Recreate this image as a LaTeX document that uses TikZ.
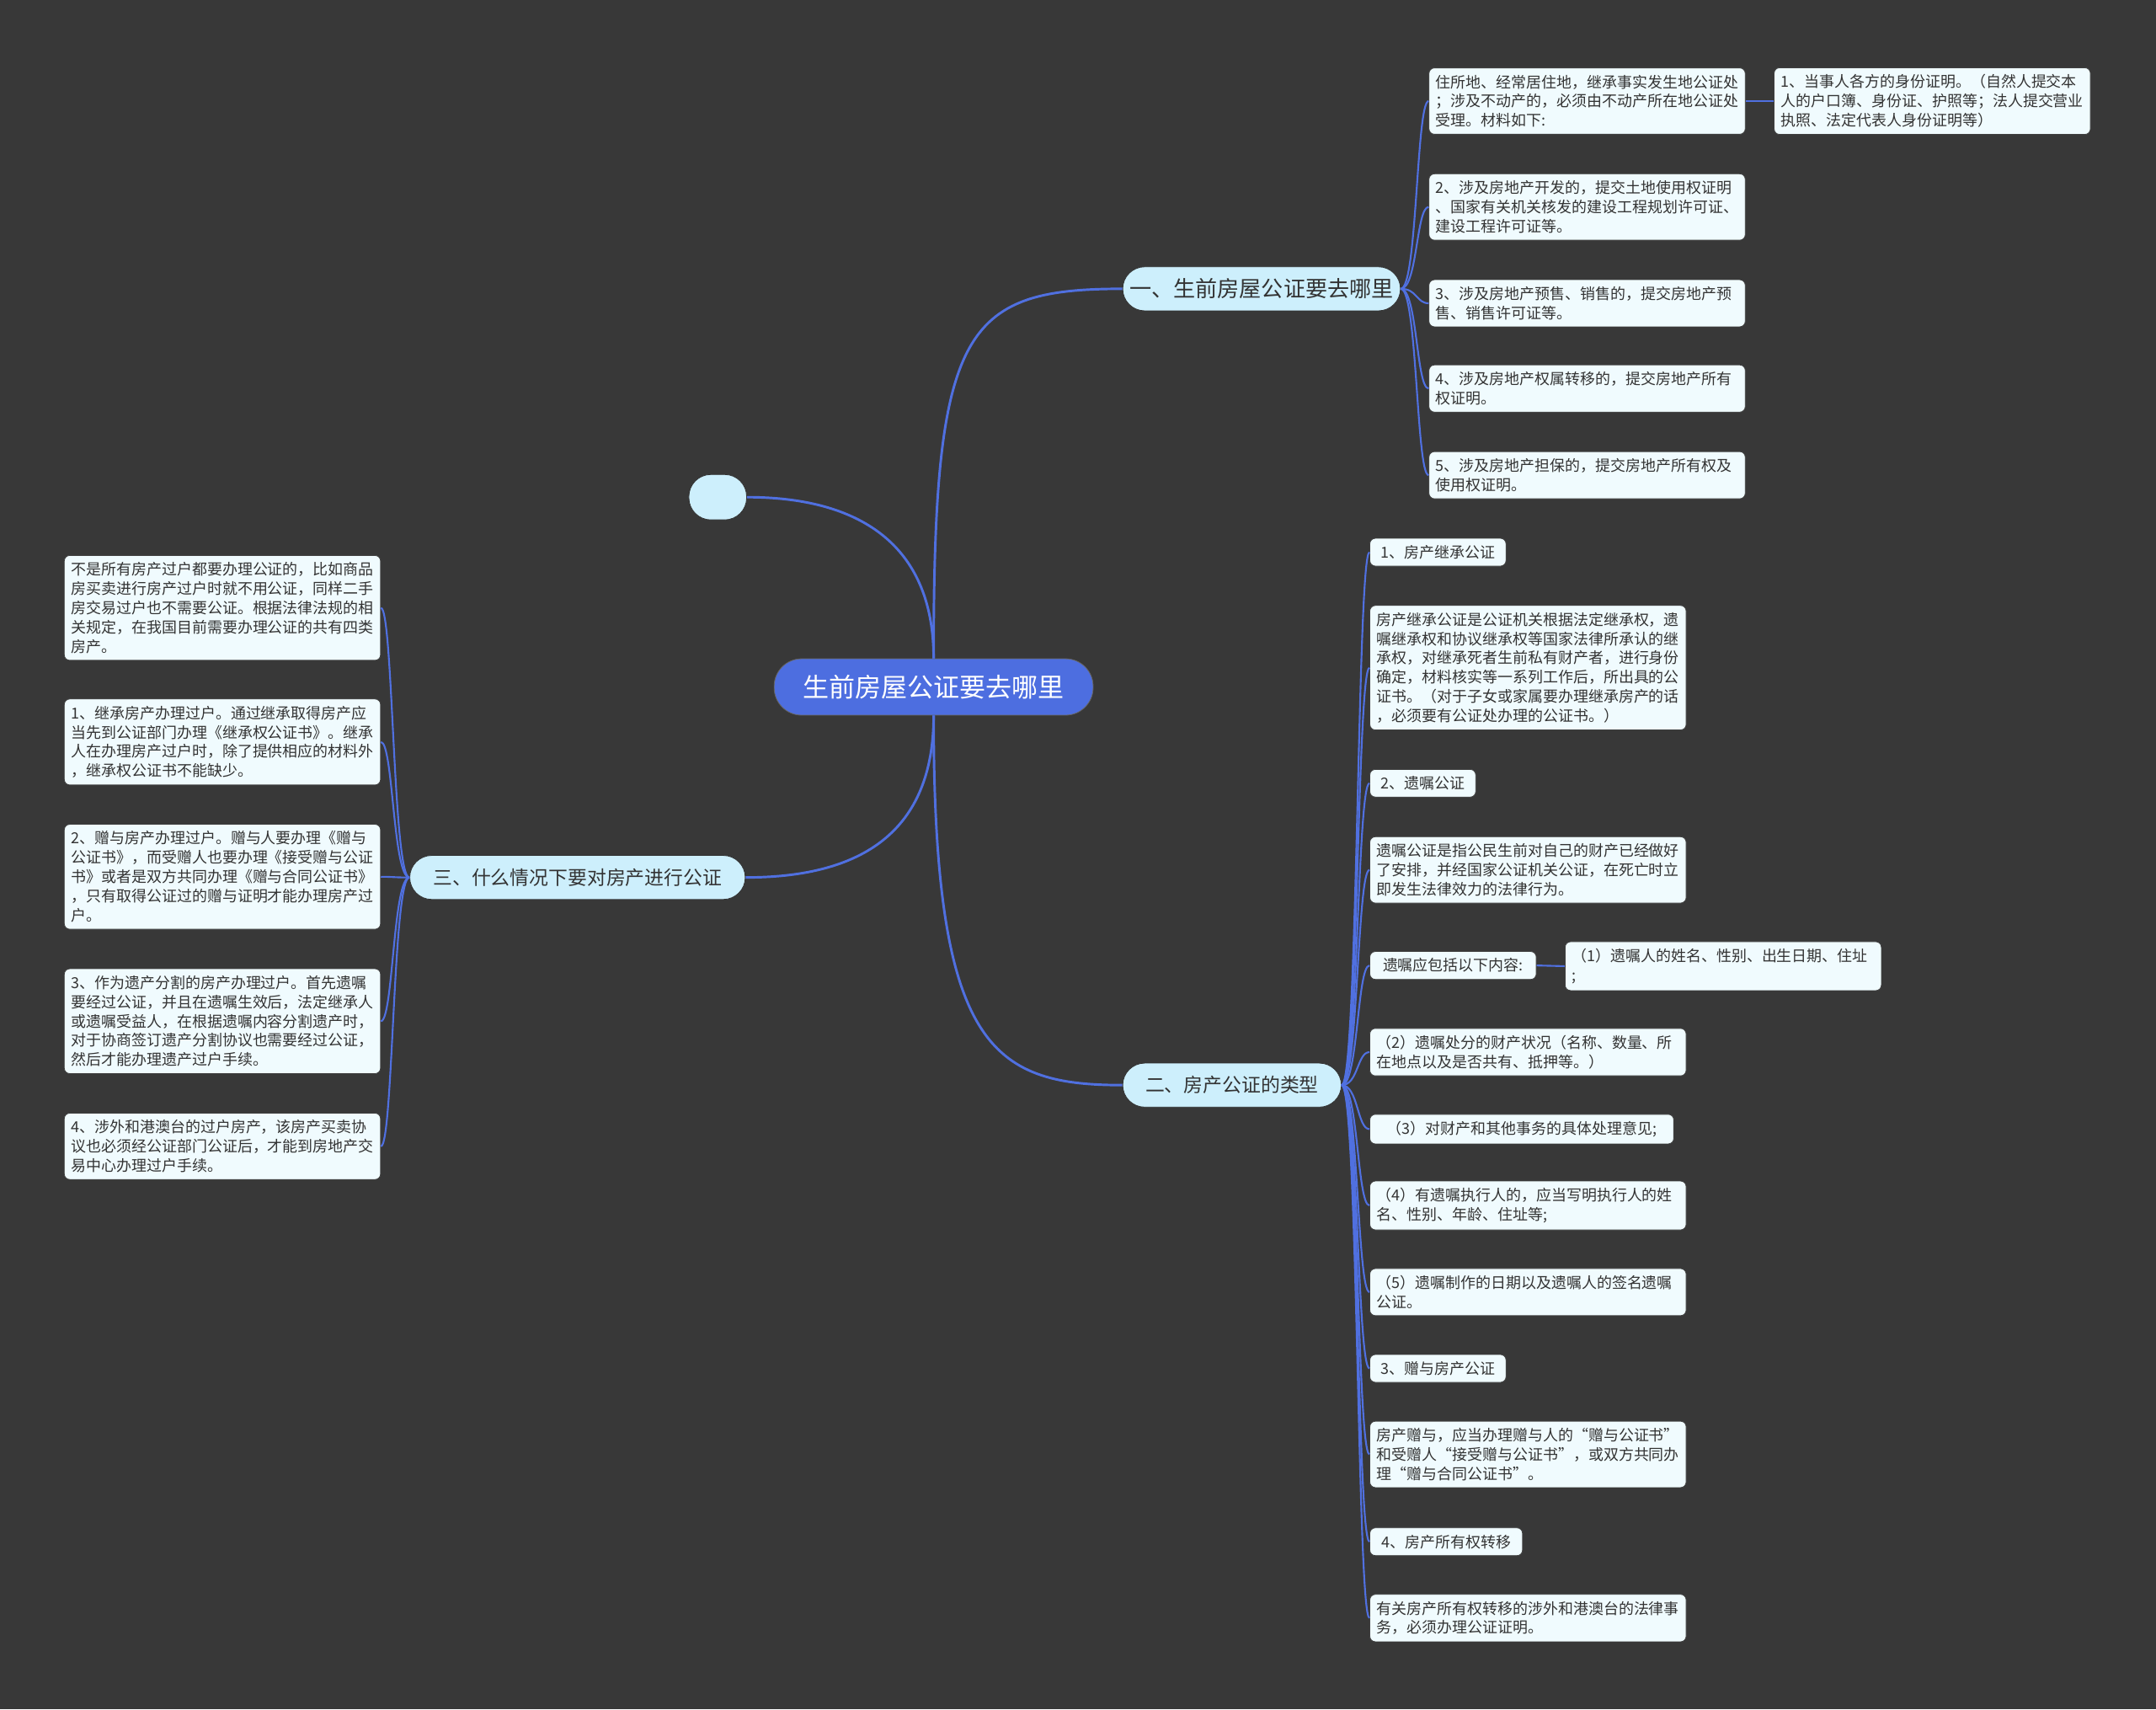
\documentclass[tikz,border=0pt]{standalone}
\usepackage{fontspec}
\setmainfont{Noto Sans CJK SC}
\definecolor{bgcol}{HTML}{383838}
\definecolor{linecol}{HTML}{5070E0}
\definecolor{rootfill}{HTML}{4D6EE0}
\definecolor{l1fill}{HTML}{CDEFFC}
\definecolor{leaffill}{HTML}{F0FBFE}
\definecolor{txt}{HTML}{333333}
\begin{document}
\begin{tikzpicture}[x=1pt,y=-1pt,
  leaf/.style={draw=black!75, line width=0.5pt, fill=leaffill, rounded corners=4pt, text=txt,
    font=\fontsize{11}{14}\selectfont, align=left, inner xsep=5pt, inner ysep=5pt, anchor=west},
  wide/.style={leaf, text width=220pt},
  lvone/.style={draw=black!80, line width=0.5pt, fill=l1fill, rounded corners=16pt, text=txt,
    minimum height=32pt, inner xsep=0pt},
  rootbox/.style={draw=black!60, line width=0.5pt, fill=rootfill, rounded corners=20pt, text=white,
    font=\fontsize{19}{22}\selectfont, minimum height=41pt, minimum width=232pt, inner xsep=0pt},
  conn/.style={draw=linecol, line width=1.3pt},
  mainconn/.style={draw=linecol, line width=1.8pt}]
\fill[bgcol] (0,0) rectangle (1568,1243);
\useasboundingbox (0,0) rectangle (1568,1243);

% root and first level
\node[rootbox] (root) at (679,499.5) {生前房屋公证要去哪里};
\node[lvone, minimum width=42pt, minimum height=33pt] (e0) at (522,361.5) {};
\node[lvone, minimum width=202pt, font=\fontsize{16}{18}\selectfont] (A) at (917.5,210) {一、生前房屋公证要去哪里};
\node[lvone, minimum width=159pt, font=\fontsize{14}{18}\selectfont] (B) at (896,789) {二、房产公证的类型};
\node[lvone, minimum width=244pt, font=\fontsize{14}{18}\selectfont] (C) at (420,638) {三、什么情况下要对房产进行公证};

% branch A
\node[wide] (a1) at (1039,73.5) {住所地、经常居住地，继承事实发生地公证处\\；涉及不动产的，必须由不动产所在地公证处\\受理。材料如下:};
\node[wide] (a1x) at (1290,73.5) {1、当事人各方的身份证明。（自然人提交本\\人的户口簿、身份证、护照等；法人提交营业\\执照、法定代表人身份证明等）};
\node[wide] (a2) at (1039,150.5) {2、涉及房地产开发的，提交土地使用权证明\\、国家有关机关核发的建设工程规划许可证、\\建设工程许可证等。};
\node[wide] (a3) at (1039,220.5) {3、涉及房地产预售、销售的，提交房地产预\\售、销售许可证等。};
\node[wide] (a4) at (1039,282.5) {4、涉及房地产权属转移的，提交房地产所有\\权证明。};
\node[wide] (a5) at (1039,345.5) {5、涉及房地产担保的，提交房地产所有权及\\使用权证明。};

% branch B
\node[leaf, minimum width=99pt] (b1) at (996,401.5) {1、房产继承公证};
\node[wide] (b2) at (996,485.5) {房产继承公证是公证机关根据法定继承权，遗\\嘱继承权和协议继承权等国家法律所承认的继\\承权，对继承死者生前私有财产者，进行身份\\确定，材料核实等一系列工作后，所出具的公\\证书。（对于子女或家属要办理继承房产的话\\，必须要有公证处办理的公证书。）};
\node[leaf, minimum width=77pt] (b3) at (996,569.5) {2、遗嘱公证};
\node[wide] (b4) at (996,632.5) {遗嘱公证是指公民生前对自己的财产已经做好\\了安排，并经国家公证机关公证，在死亡时立\\即发生法律效力的法律行为。};
\node[leaf, minimum width=121pt] (b5) at (996,702) {遗嘱应包括以下内容:};
\node[wide] (b5x) at (1138,702.5) {（1）遗嘱人的姓名、性别、出生日期、住址\\;};
\node[wide] (b6) at (996,765) {（2）遗嘱处分的财产状况（名称、数量、所\\在地点以及是否共有、抵押等。）};
\node[leaf, minimum width=221pt] (b7) at (996,821) {（3）对财产和其他事务的具体处理意见;};
\node[wide] (b8) at (996,876.5) {（4）有遗嘱执行人的，应当写明执行人的姓\\名、性别、年龄、住址等;};
\node[wide] (b9) at (996,939.5) {（5）遗嘱制作的日期以及遗嘱人的签名遗嘱\\公证。};
\node[leaf, minimum width=99pt] (b10) at (996,995) {3、赠与房产公证};
\node[wide] (b11) at (996,1057.5) {房产赠与，应当办理赠与人的“赠与公证书”\\和受赠人“接受赠与公证书”，或双方共同办\\理“赠与合同公证书”。};
\node[leaf, minimum width=111pt] (b12) at (996,1121) {4、房产所有权转移};
\node[wide] (b13) at (996,1176.5) {有关房产所有权转移的涉外和港澳台的法律事\\务，必须办理公证证明。};

% branch C
\node[wide, anchor=east] (c1) at (277,442) {不是所有房产过户都要办理公证的，比如商品\\房买卖进行房产过户时就不用公证，同样二手\\房交易过户也不需要公证。根据法律法规的相\\关规定，在我国目前需要办理公证的共有四类\\房产。};
\node[wide, anchor=east] (c2) at (277,539.5) {1、继承房产办理过户。通过继承取得房产应\\当先到公证部门办理《继承权公证书》。继承\\人在办理房产过户时，除了提供相应的材料外\\，继承权公证书不能缺少。};
\node[wide, anchor=east] (c3) at (277,637.5) {2、赠与房产办理过户。赠与人要办理《赠与\\公证书》，而受赠人也要办理《接受赠与公证\\书》或者是双方共同办理《赠与合同公证书》\\，只有取得公证过的赠与证明才能办理房产过\\户。};
\node[wide, anchor=east] (c4) at (277,742.5) {3、作为遗产分割的房产办理过户。首先遗嘱\\要经过公证，并且在遗嘱生效后，法定继承人\\或遗嘱受益人，在根据遗嘱内容分割遗产时，\\对于协商签订遗产分割协议也需要经过公证，\\然后才能办理遗产过户手续。};
\node[wide, anchor=east] (c5) at (277,833.5) {4、涉外和港澳台的过户房产，该房产买卖协\\议也必须经公证部门公证后，才能到房地产交\\易中心办理过户手续。};

% main connectors
\draw[mainconn] (root.north) .. controls (679,240) and (700,210) .. (A.west);
\draw[mainconn] (root.north) .. controls (679,400) and (630,361.5) .. (e0.east);
\draw[mainconn] (root.south) .. controls (679,610) and (620,638) .. (C.east);
\draw[mainconn] (root.south) .. controls (679,760) and (720,789) .. (B.west);

% branch A connectors
\foreach \n in {a1,a2,a3,a4,a5}
  \draw[conn] (A.east) .. controls +(12,0) and +(-9,0) .. (\n.west);
\draw[conn] (a1.east) -- (a1x.west);

% branch B connectors
\foreach \n in {b1,b2,b3,b4,b5,b6,b7,b8,b9,b10,b11,b12,b13}
  \draw[conn] (B.east) .. controls +(12,0) and +(-9,0) .. (\n.west);
\draw[conn] (b5.east) -- (b5x.west);

% branch C connectors
\foreach \n in {c1,c2,c3,c4,c5}
  \draw[conn] (C.west) .. controls +(-12,0) and +(9,0) .. (\n.east);
\end{tikzpicture}
\end{document}
